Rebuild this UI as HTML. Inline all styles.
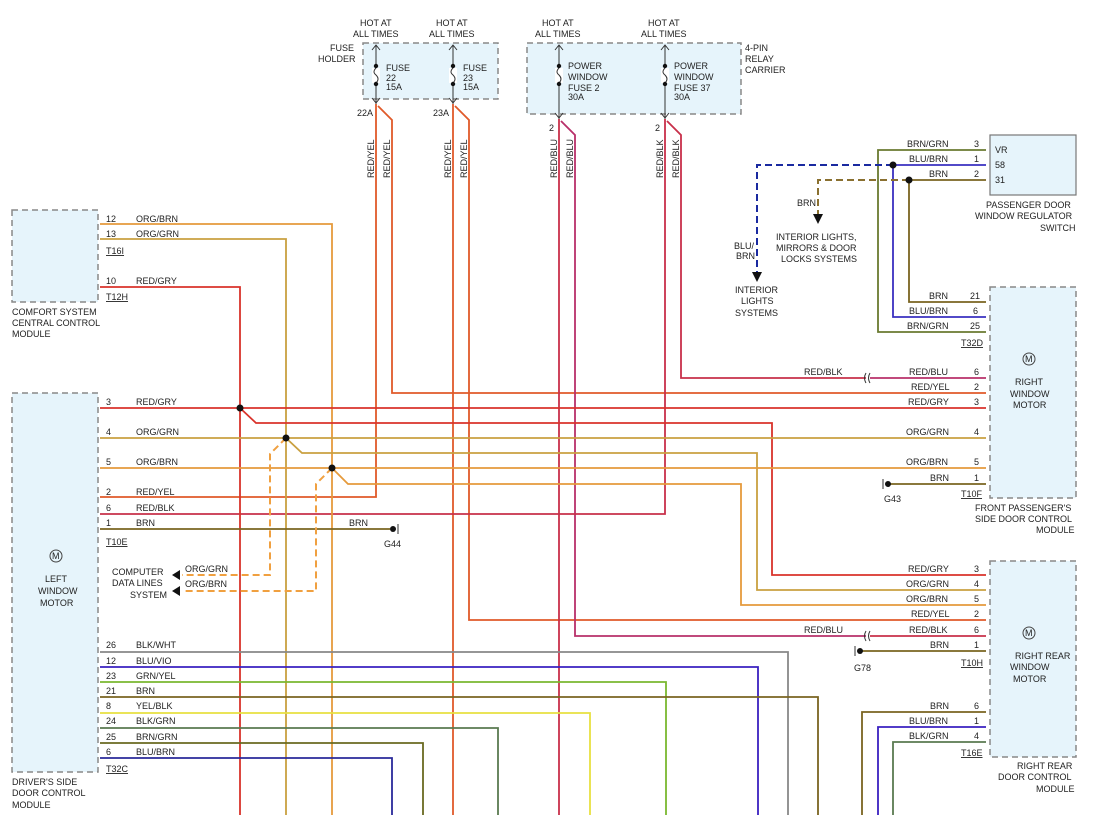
<!DOCTYPE html><html><head><style>body{margin:0;background:#fff}svg{display:block}text{font-family:"Liberation Sans",sans-serif;font-size:9px;fill:#222}</style></head><body>
<svg width="1096" height="815" viewBox="0 0 1096 815" xmlns="http://www.w3.org/2000/svg">
<g fill="#e6f4fb" stroke="#888" stroke-width="1.5" stroke-dasharray="6,4">
<rect x="363" y="43" width="135" height="56"/><rect x="527" y="43" width="214" height="71"/>
<rect x="12" y="210" width="86" height="92"/><rect x="12" y="393" width="86" height="379"/>
<rect x="990" y="287" width="86" height="211"/><rect x="990" y="561" width="86" height="196"/></g>
<rect x="990" y="135" width="86" height="60" fill="#e6f4fb" stroke="#777" stroke-width="1.2"/>
<g fill="none" stroke-width="1.8">
<!-- fuse feeds -->
<polyline stroke="#e05a2a" points="376,104 376,497 100,497"/>
<polyline stroke="#e05a2a" points="378,106 392,120 392,393 986,393"/>
<polyline stroke="#e05a2a" points="453,104 453,815"/>
<polyline stroke="#e05a2a" points="455,106 469,120 469,620 986,620"/>
<polyline stroke="#c8304a" points="559,119 559,815"/>
<polyline stroke="#b8306a" points="561,121 575,135 575,636 866,636"/>
<polyline stroke="#c8304a" points="870,636 986,636"/>
<polyline stroke="#c8304a" points="665,119 665,514 100,514"/>
<polyline stroke="#c8304a" points="667,121 681,135 681,378 866,378"/>
<polyline stroke="#b8306a" points="870,378 986,378"/>
<!-- comfort -->
<polyline stroke="#e59a3c" points="100,224 332,224 332,815"/>
<polyline stroke="#c9a040" points="100,239 286,239 286,815"/>
<polyline stroke="#d9332b" points="100,287 240,287 240,815"/>
<!-- left motor -->
<polyline stroke="#d9332b" points="100,408 986,408"/>
<polyline stroke="#d9332b" points="240,408 256,423 772,423 772,575 986,575"/>
<polyline stroke="#c9a040" points="100,438 986,438"/>
<polyline stroke="#c9a040" points="286,438 302,453 757,453 757,590 986,590"/>
<polyline stroke="#e59a3c" points="100,468 986,468"/>
<polyline stroke="#e59a3c" points="332,468 348,484 741,484 741,605 986,605"/>
<polyline stroke="#7a6420" points="100,529 390,529"/>
<polyline stroke="#7a6420" points="890,484 986,484"/>
<polyline stroke="#7a6420" points="862,651 986,651"/>
<!-- lower -->
<polyline stroke="#888" points="100,652 788,652 788,815"/>
<polyline stroke="#3a20c0" points="100,667 758,667 758,815"/>
<polyline stroke="#7ab830" points="100,682 666,682 666,815"/>
<polyline stroke="#7a6420" points="100,697 818,697 818,815"/>
<polyline stroke="#e8e040" points="100,713 590,713 590,815"/>
<polyline stroke="#5a7a50" points="100,728 498,728 498,815"/>
<polyline stroke="#6a6a20" points="100,743 423,743 423,815"/>
<polyline stroke="#2a2a9a" points="100,758 392,758 392,815"/>
<!-- rear right -->
<polyline stroke="#7a6420" points="986,712 862,712 862,815"/>
<polyline stroke="#3a20c0" points="986,727 878,727 878,815"/>
<polyline stroke="#5a7a50" points="986,742 893,742 893,815"/>
<!-- switch -->
<polyline stroke="#6a7a30" points="986,150 878,150 878,332 986,332"/>
<polyline stroke="#3a30c0" points="986,165 893,165 893,317 986,317"/>
<polyline stroke="#7a6420" points="986,180 909,180 909,302 986,302"/>
</g>
<g fill="none" stroke-width="2" stroke-dasharray="7,4">
<polyline stroke="#1a2aa0" points="893,165 757,165 757,272"/>
<polyline stroke="#8a7030" points="909,180 818,180 818,215"/>
<polyline stroke="#f0a040" points="286,438 270,454 270,575 182,575"/>
<polyline stroke="#f0a040" points="332,468 316,484 316,591 182,591"/>
</g>
<g fill="#111"><circle cx="240" cy="408" r="3.5"/><circle cx="286" cy="438" r="3.5"/><circle cx="332" cy="468" r="3.5"/><circle cx="893" cy="165" r="3.5"/><circle cx="909" cy="180" r="3.5"/>
<polygon points="752,272 762,272 757,282"/><polygon points="813,214 823,214 818,224"/>
<polygon points="172,575 180,570 180,580"/><polygon points="172,591 180,586 180,596"/>
<circle cx="393" cy="529" r="3"/><circle cx="888" cy="484" r="3"/><circle cx="860" cy="651" r="3"/></g>
<g stroke="#333" fill="none" stroke-width="1"><line x1="398" y1="524" x2="398" y2="534"/><line x1="883" y1="479" x2="883" y2="489"/><line x1="855" y1="646" x2="855" y2="656"/>
<path d="M866,373 q-3,5 0,10 M870,373 q-3,5 0,10 M866,631 q-3,5 0,10 M870,631 q-3,5 0,10"/>
<path d="M376,45 V104 M453,45 V104 M559,45 V119 M665,45 V119"/>
<path d="M372,50 l4,-5 4,5 M449,50 l4,-5 4,5 M555,50 l4,-5 4,5 M661,50 l4,-5 4,5 M372,98 l4,5 4,-5 M449,98 l4,5 4,-5 M555,113 l4,5 4,-5 M661,113 l4,5 4,-5"/>
</g>
<g fill="#fff" stroke="none"><rect x="372" y="68" width="8" height="15"/><rect x="449" y="68" width="8" height="15"/><rect x="555" y="68" width="8" height="15"/><rect x="661" y="68" width="8" height="15"/></g>
<g stroke="#333" fill="none"><path d="M376,68 q-4,4 0,7 q4,4 0,8 M453,68 q-4,4 0,7 q4,4 0,8 M559,68 q-4,4 0,7 q4,4 0,8 M665,68 q-4,4 0,7 q4,4 0,8"/></g>
<g fill="#111"><circle cx="376" cy="66" r="2.2"/><circle cx="376" cy="84" r="2.2"/><circle cx="453" cy="66" r="2.2"/><circle cx="453" cy="84" r="2.2"/><circle cx="559" cy="66" r="2.2"/><circle cx="559" cy="84" r="2.2"/><circle cx="665" cy="66" r="2.2"/><circle cx="665" cy="84" r="2.2"/></g>
<g>
<text x="360" y="26">HOT AT</text><text x="353" y="37">ALL TIMES</text><text x="436" y="26">HOT AT</text><text x="429" y="37">ALL TIMES</text>
<text x="542" y="26">HOT AT</text><text x="535" y="37">ALL TIMES</text><text x="648" y="26">HOT AT</text><text x="641" y="37">ALL TIMES</text>
<text x="330" y="51">FUSE</text><text x="318" y="62">HOLDER</text><text x="745" y="51">4-PIN</text><text x="745" y="62">RELAY</text><text x="745" y="73">CARRIER</text>
<text x="386" y="71">FUSE</text><text x="386" y="81">22</text><text x="386" y="90">15A</text><text x="463" y="71">FUSE</text><text x="463" y="81">23</text><text x="463" y="90">15A</text>
<text x="568" y="69">POWER</text><text x="568" y="80">WINDOW</text><text x="568" y="91">FUSE 2</text><text x="568" y="100">30A</text>
<text x="674" y="69">POWER</text><text x="674" y="80">WINDOW</text><text x="674" y="91">FUSE 37</text><text x="674" y="100">30A</text>
<text x="357" y="116">22A</text><text x="433" y="116">23A</text><text x="549" y="131">2</text><text x="655" y="131">2</text>
<text transform="translate(374,178) rotate(-90)">RED/YEL</text><text transform="translate(390,178) rotate(-90)">RED/YEL</text>
<text transform="translate(451,178) rotate(-90)">RED/YEL</text><text transform="translate(467,178) rotate(-90)">RED/YEL</text>
<text transform="translate(557,178) rotate(-90)">RED/BLU</text><text transform="translate(573,178) rotate(-90)">RED/BLU</text>
<text transform="translate(663,178) rotate(-90)">RED/BLK</text><text transform="translate(679,178) rotate(-90)">RED/BLK</text>
<text x="106" y="222">12</text><text x="136" y="222">ORG/BRN</text><text x="106" y="237">13</text><text x="136" y="237">ORG/GRN</text>
<text x="106" y="254" text-decoration="underline">T16I</text><text x="106" y="284">10</text><text x="136" y="284">RED/GRY</text><text x="106" y="300" text-decoration="underline">T12H</text>
<text x="12" y="315">COMFORT SYSTEM</text><text x="12" y="326">CENTRAL CONTROL</text><text x="12" y="337">MODULE</text>
<text x="106" y="405">3</text><text x="136" y="405">RED/GRY</text><text x="106" y="435">4</text><text x="136" y="435">ORG/GRN</text>
<text x="106" y="465">5</text><text x="136" y="465">ORG/BRN</text><text x="106" y="495">2</text><text x="136" y="495">RED/YEL</text>
<text x="106" y="511">6</text><text x="136" y="511">RED/BLK</text><text x="106" y="526">1</text><text x="136" y="526">BRN</text><text x="349" y="526">BRN</text>
<text x="106" y="545" text-decoration="underline">T10E</text><text x="384" y="547">G44</text>
<text x="45" y="582">LEFT</text><text x="38" y="594">WINDOW</text><text x="40" y="606">MOTOR</text>
<text x="112" y="575">COMPUTER</text><text x="112" y="586">DATA LINES</text><text x="130" y="598">SYSTEM</text>
<text x="185" y="572">ORG/GRN</text><text x="185" y="587">ORG/BRN</text>
<text x="106" y="648">26</text><text x="136" y="648">BLK/WHT</text><text x="106" y="664">12</text><text x="136" y="664">BLU/VIO</text>
<text x="106" y="679">23</text><text x="136" y="679">GRN/YEL</text><text x="106" y="694">21</text><text x="136" y="694">BRN</text>
<text x="106" y="709">8</text><text x="136" y="709">YEL/BLK</text><text x="106" y="724">24</text><text x="136" y="724">BLK/GRN</text>
<text x="106" y="740">25</text><text x="136" y="740">BRN/GRN</text><text x="106" y="755">6</text><text x="136" y="755">BLU/BRN</text>
<text x="106" y="772" text-decoration="underline">T32C</text>
<text x="12" y="785">DRIVER'S SIDE</text><text x="12" y="796">DOOR CONTROL</text><text x="12" y="808">MODULE</text>
<text x="907" y="147">BRN/GRN</text><text x="974" y="147">3</text><text x="909" y="162">BLU/BRN</text><text x="974" y="162">1</text><text x="929" y="177">BRN</text><text x="974" y="177">2</text>
<text x="995" y="153">VR</text><text x="995" y="168">58</text><text x="995" y="183">31</text>
<text x="986" y="208">PASSENGER DOOR</text><text x="975" y="219">WINDOW REGULATOR</text><text x="1040" y="231">SWITCH</text>
<text x="797" y="206">BRN</text><text x="776" y="240">INTERIOR LIGHTS,</text><text x="776" y="251">MIRRORS &amp; DOOR</text><text x="781" y="262">LOCKS SYSTEMS</text>
<text x="734" y="249">BLU/</text><text x="736" y="259">BRN</text><text x="735" y="293">INTERIOR</text><text x="741" y="304">LIGHTS</text><text x="735" y="316">SYSTEMS</text>
<text x="929" y="299">BRN</text><text x="970" y="299">21</text><text x="909" y="314">BLU/BRN</text><text x="973" y="314">6</text><text x="907" y="329">BRN/GRN</text><text x="970" y="329">25</text>
<text x="961" y="346" text-decoration="underline">T32D</text>
<text x="804" y="375">RED/BLK</text><text x="909" y="375">RED/BLU</text><text x="974" y="375">6</text>
<text x="911" y="390">RED/YEL</text><text x="974" y="390">2</text><text x="908" y="405">RED/GRY</text><text x="974" y="405">3</text>
<text x="906" y="435">ORG/GRN</text><text x="974" y="435">4</text><text x="906" y="465">ORG/BRN</text><text x="974" y="465">5</text>
<text x="930" y="481">BRN</text><text x="974" y="481">1</text><text x="961" y="497" text-decoration="underline">T10F</text><text x="884" y="502">G43</text>
<text x="1015" y="385">RIGHT</text><text x="1010" y="397">WINDOW</text><text x="1013" y="408">MOTOR</text>
<text x="975" y="511">FRONT PASSENGER'S</text><text x="975" y="522">SIDE DOOR CONTROL</text><text x="1036" y="533">MODULE</text>
<text x="908" y="572">RED/GRY</text><text x="974" y="572">3</text><text x="906" y="587">ORG/GRN</text><text x="974" y="587">4</text>
<text x="906" y="602">ORG/BRN</text><text x="974" y="602">5</text><text x="911" y="617">RED/YEL</text><text x="974" y="617">2</text>
<text x="804" y="633">RED/BLU</text><text x="909" y="633">RED/BLK</text><text x="974" y="633">6</text><text x="930" y="648">BRN</text><text x="974" y="648">1</text>
<text x="961" y="666" text-decoration="underline">T10H</text><text x="854" y="671">G78</text>
<text x="1015" y="659">RIGHT REAR</text><text x="1010" y="670">WINDOW</text><text x="1013" y="682">MOTOR</text>
<text x="930" y="709">BRN</text><text x="974" y="709">6</text><text x="909" y="724">BLU/BRN</text><text x="974" y="724">1</text><text x="909" y="739">BLK/GRN</text><text x="974" y="739">4</text>
<text x="961" y="756" text-decoration="underline">T16E</text>
<text x="1017" y="769">RIGHT REAR</text><text x="998" y="780">DOOR CONTROL</text><text x="1036" y="792">MODULE</text>
</g>
<g fill="none" stroke="#444" stroke-width="1"><circle cx="56" cy="556" r="6"/><circle cx="1029" cy="359" r="6"/><circle cx="1029" cy="633" r="6"/></g>
<g style="font-size:8px"><text x="52" y="559">M</text><text x="1025" y="362">M</text><text x="1025" y="636">M</text></g>
</svg></body></html>
